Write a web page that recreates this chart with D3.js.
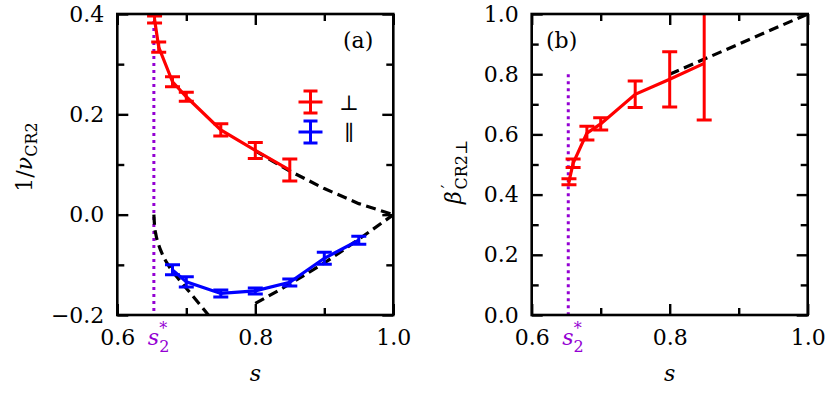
<!DOCTYPE html>
<html><head><meta charset="utf-8">
<script src="https://cdn.jsdelivr.net/npm/d3@7"></script>
<style>
body{margin:0;background:#fff;}
svg{display:block;}
text{font-family:"DejaVu Serif","Liberation Serif",serif;fill:#000;}
</style></head><body>
<svg id="c" width="832" height="393"></svg>
<script>
// ---------- data ----------
const sPerp = [0.654, 0.66, 0.68, 0.70, 0.75, 0.80, 0.85];
const perpVals = [0.389, 0.334, 0.265, 0.235, 0.169, 0.128, 0.089];
const perpErr = [0.007, 0.010, 0.010, 0.009, 0.012, 0.016, 0.022];
const sPar = [0.68, 0.70, 0.75, 0.80, 0.85, 0.90, 0.95];
const parVals = [-0.110, -0.134, -0.157, -0.152, -0.135, -0.087, -0.051];
const parErr = [0.010, 0.010, 0.007, 0.006, 0.007, 0.012, 0.008];
const dashUpS = [0.80, 0.85, 0.90, 0.95, 1.00];
const dashUpV = [0.127, 0.087, 0.052, 0.022, 0.0];
const dashLowS = [0.80, 0.85, 0.90, 0.95, 1.00];
const dashLowV = [-0.177, -0.138, -0.096, -0.049, 0.0];
const dashLeftS = [0.653, 0.654, 0.656, 0.660, 0.665, 0.675, 0.690, 0.710, 0.735];
const dashLeftV = [0.0, -0.022, -0.040, -0.060, -0.078, -0.103, -0.130, -0.163, -0.205];
const sBeta = [0.654, 0.66, 0.68, 0.70, 0.75, 0.80, 0.85];
const betaVals = [0.443, 0.504, 0.604, 0.635, 0.733, 0.783, 0.836];
const betaErr = [0.010, 0.014, 0.023, 0.020, 0.044, 0.092, 0.188];
const dashBS = [0.80, 1.00];
const dashBV = [0.80, 1.00];
const sStar = 0.653;
const dotTopB = 0.8;
const xMajor = [0.6, 0.8, 1.0];
const xMajorLabels = ["0.6", "0.8", "1.0"];
const xMinor = [0.7, 0.9];
const yMajorA = [-0.2, 0.0, 0.2, 0.4];
const yMajorALabels = ["\u22120.2", "0.0", "0.2", "0.4"];
const yMinorA = [-0.1, 0.1, 0.3];
const yMajorB = [0.0, 0.2, 0.4, 0.6, 0.8, 1.0];
const yMajorBLabels = ["0.0", "0.2", "0.4", "0.6", "0.8", "1.0"];
const yMinorB = [0.1, 0.3, 0.5, 0.7, 0.9];

// ---------- layout ----------
const svg = d3.select("#c");
const FS = 22;
const RED = "#ff0000", BLUE = "#0000ff", PURP = "#9400d3";
const TOPY = 14, BOTY = 315;

const xA = d3.scaleLinear().domain([0.6, 1.0]).range([117.3, 393.3]);
const yA = d3.scaleLinear().domain([-0.2, 0.4]).range([BOTY, TOPY]);
const xB = d3.scaleLinear().domain([0.6, 1.0]).range([531.7, 807.7]);
const yB = d3.scaleLinear().domain([0.0, 1.0]).range([BOTY, TOPY]);

function frameAxes(g, x, y, yMaj, yLab, yMin, id) {
  const x0 = x.range()[0], x1 = x.range()[1];
  const mk = (axis, tx, ty) => {
    const a = g.append("g").attr("transform", `translate(${tx},${ty})`).call(axis);
    a.select(".domain").remove();
    a.selectAll("line").attr("stroke", "#000").attr("stroke-width", 2.4);
    a.selectAll("text").style("font-size", FS + "px").style("font-family", '"DejaVu Serif",serif').attr("fill", "#000");
    return a;
  };
  mk(d3.axisBottom(x).tickValues(xMajor).tickSize(-11).tickPadding(14).tickFormat((d, i) => xMajorLabels[i]), 0, BOTY);
  mk(d3.axisBottom(x).tickValues(xMinor).tickSize(-7).tickFormat(""), 0, BOTY);
  mk(d3.axisTop(x).tickValues(xMajor).tickSize(-11).tickFormat(""), 0, TOPY);
  mk(d3.axisTop(x).tickValues(xMinor).tickSize(-7).tickFormat(""), 0, TOPY);
  mk(d3.axisLeft(y).tickValues(yMaj).tickSize(-11).tickPadding(13).tickFormat((d, i) => yLab[i]), x0, 0);
  mk(d3.axisLeft(y).tickValues(yMin).tickSize(-7).tickFormat(""), x0, 0);
  mk(d3.axisRight(y).tickValues(yMaj).tickSize(-11).tickFormat(""), x1, 0);
  mk(d3.axisRight(y).tickValues(yMin).tickSize(-7).tickFormat(""), x1, 0);
  g.append("rect").attr("x", x0).attr("y", TOPY).attr("width", x1 - x0).attr("height", BOTY - TOPY)
    .attr("fill", "none").attr("stroke", "#000").attr("stroke-width", 2.6);
  g.append("clipPath").attr("id", id).append("rect")
    .attr("x", x0).attr("y", TOPY).attr("width", x1 - x0).attr("height", BOTY - TOPY);
}

function series(g, x, y, sArr, vArr, eArr, color, clip) {
  const pts = sArr.map((s, i) => [s, vArr[i], eArr[i]]);
  const gg = g.append("g").attr("clip-path", `url(#${clip})`);
  gg.append("path").datum(pts)
    .attr("d", d3.line().x(d => x(d[0])).y(d => y(d[1])))
    .attr("fill", "none").attr("stroke", color).attr("stroke-width", 3.2);
  const cap = 7.5;
  const eb = gg.selectAll(null).data(pts).enter().append("g");
  eb.append("line").attr("x1", d => x(d[0])).attr("x2", d => x(d[0]))
    .attr("y1", d => y(d[1] - d[2])).attr("y2", d => y(d[1] + d[2]))
    .attr("stroke", color).attr("stroke-width", 3);
  eb.append("line").attr("x1", d => x(d[0]) - cap).attr("x2", d => x(d[0]) + cap)
    .attr("y1", d => y(d[1] - d[2])).attr("y2", d => y(d[1] - d[2]))
    .attr("stroke", color).attr("stroke-width", 3);
  eb.append("line").attr("x1", d => x(d[0]) - cap).attr("x2", d => x(d[0]) + cap)
    .attr("y1", d => y(d[1] + d[2])).attr("y2", d => y(d[1] + d[2]))
    .attr("stroke", color).attr("stroke-width", 3);
}

function dashed(g, x, y, sArr, vArr, clip, curve) {
  g.append("path").attr("clip-path", `url(#${clip})`)
    .datum(sArr.map((s, i) => [s, vArr[i]]))
    .attr("d", d3.line().curve(curve || d3.curveLinear).x(d => x(d[0])).y(d => y(d[1])))
    .attr("fill", "none").attr("stroke", "#000").attr("stroke-width", 3.2)
    .attr("stroke-dasharray", "10,5.5");
}

function starLabel(g, x) {
  const t = g.append("text").attr("x", x(sStar) - 6).attr("y", 345)
    .style("font-size", FS + "px").style("fill", PURP);
  t.append("tspan").text("s").style("font-style", "italic").style("fill", PURP);
  t.append("tspan").text("2").attr("dy", 7).style("font-size", "16px").style("fill", PURP);
  t.append("tspan").text("*").attr("dx", -10).attr("dy", -18).style("font-size", "16px").style("fill", PURP);
}

// ---------- panel (a) ----------
const gA = svg.append("g");
const plotA = gA.append("g");
frameAxes(gA, xA, yA, yMajorA, yMajorALabels, yMinorA, "clipA");
plotA.append("line").attr("x1", xA(sStar)).attr("x2", xA(sStar)).attr("y1", yA(0.4)).attr("y2", yA(-0.2))
  .attr("stroke", PURP).attr("stroke-width", 3).attr("stroke-dasharray", "3,4");
dashed(plotA, xA, yA, dashUpS, dashUpV, "clipA");
dashed(plotA, xA, yA, dashLowS, dashLowV, "clipA", d3.curveMonotoneX);
dashed(plotA, xA, yA, dashLeftS, dashLeftV, "clipA", d3.curveMonotoneX);
series(plotA, xA, yA, sPerp, perpVals, perpErr, RED, "clipA");
series(plotA, xA, yA, sPar, parVals, parErr, BLUE, "clipA");
gA.append("text").attr("x", 343).attr("y", 48).style("font-size", FS + "px").text("(a)");

// legend
const legendItems = [{c: RED, y: 102, t: "\u22a5"}, {c: BLUE, y: 132, t: "\u2225"}];
legendItems.forEach(it => {
  const lx = 310.5;
  gA.append("line").attr("x1", lx - 12).attr("x2", lx + 12).attr("y1", it.y).attr("y2", it.y).attr("stroke", it.c).attr("stroke-width", 3);
  gA.append("line").attr("x1", lx).attr("x2", lx).attr("y1", it.y - 11).attr("y2", it.y + 11).attr("stroke", it.c).attr("stroke-width", 3);
  gA.append("line").attr("x1", lx - 7).attr("x2", lx + 7).attr("y1", it.y - 11).attr("y2", it.y - 11).attr("stroke", it.c).attr("stroke-width", 3);
  gA.append("line").attr("x1", lx - 7).attr("x2", lx + 7).attr("y1", it.y + 11).attr("y2", it.y + 11).attr("stroke", it.c).attr("stroke-width", 3);
  gA.append("text").attr("x", 349).attr("y", it.y + 8).attr("text-anchor", "middle")
    .style("font-size", "21px").text(it.t);
});

// axis labels (a)
const ylA = gA.append("text").attr("transform", "translate(32,157) rotate(-90)").attr("text-anchor", "middle")
  .style("font-size", FS + "px");
ylA.append("tspan").text("1/");
ylA.append("tspan").text("\u03bd").style("font-style", "italic");
ylA.append("tspan").text("CR2").attr("dy", 5).style("font-size", "16px");
gA.append("text").attr("x", xA(0.8)).attr("y", 381).attr("text-anchor", "middle")
  .style("font-size", FS + "px").style("font-style", "italic").text("s");
starLabel(gA, xA);

// ---------- panel (b) ----------
const gB = svg.append("g");
const plotB = gB.append("g");
frameAxes(gB, xB, yB, yMajorB, yMajorBLabels, yMinorB, "clipB");
plotB.append("line").attr("x1", xB(sStar)).attr("x2", xB(sStar)).attr("y1", yB(dotTopB)).attr("y2", yB(0))
  .attr("stroke", PURP).attr("stroke-width", 3).attr("stroke-dasharray", "3,4");
dashed(plotB, xB, yB, dashBS, dashBV, "clipB");
series(plotB, xB, yB, sBeta, betaVals, betaErr, RED, "clipB");
gB.append("text").attr("x", 546).attr("y", 48).style("font-size", FS + "px").text("(b)");

const ylB = gB.append("text").attr("transform", "translate(461,172) rotate(-90)").attr("text-anchor", "middle")
  .style("font-size", FS + "px");
ylB.append("tspan").text("\u03b2").style("font-style", "italic");
ylB.append("tspan").text("\u2032").attr("dx", 3).attr("dy", -8).style("font-size", "16px");
ylB.append("tspan").text("CR2\u22a5").attr("dx", -5).attr("dy", 14).style("font-size", "16px");
gB.append("text").attr("x", xB(0.8)).attr("y", 381).attr("text-anchor", "middle")
  .style("font-size", FS + "px").style("font-style", "italic").text("s");
starLabel(gB, xB);
</script>
</body></html>
